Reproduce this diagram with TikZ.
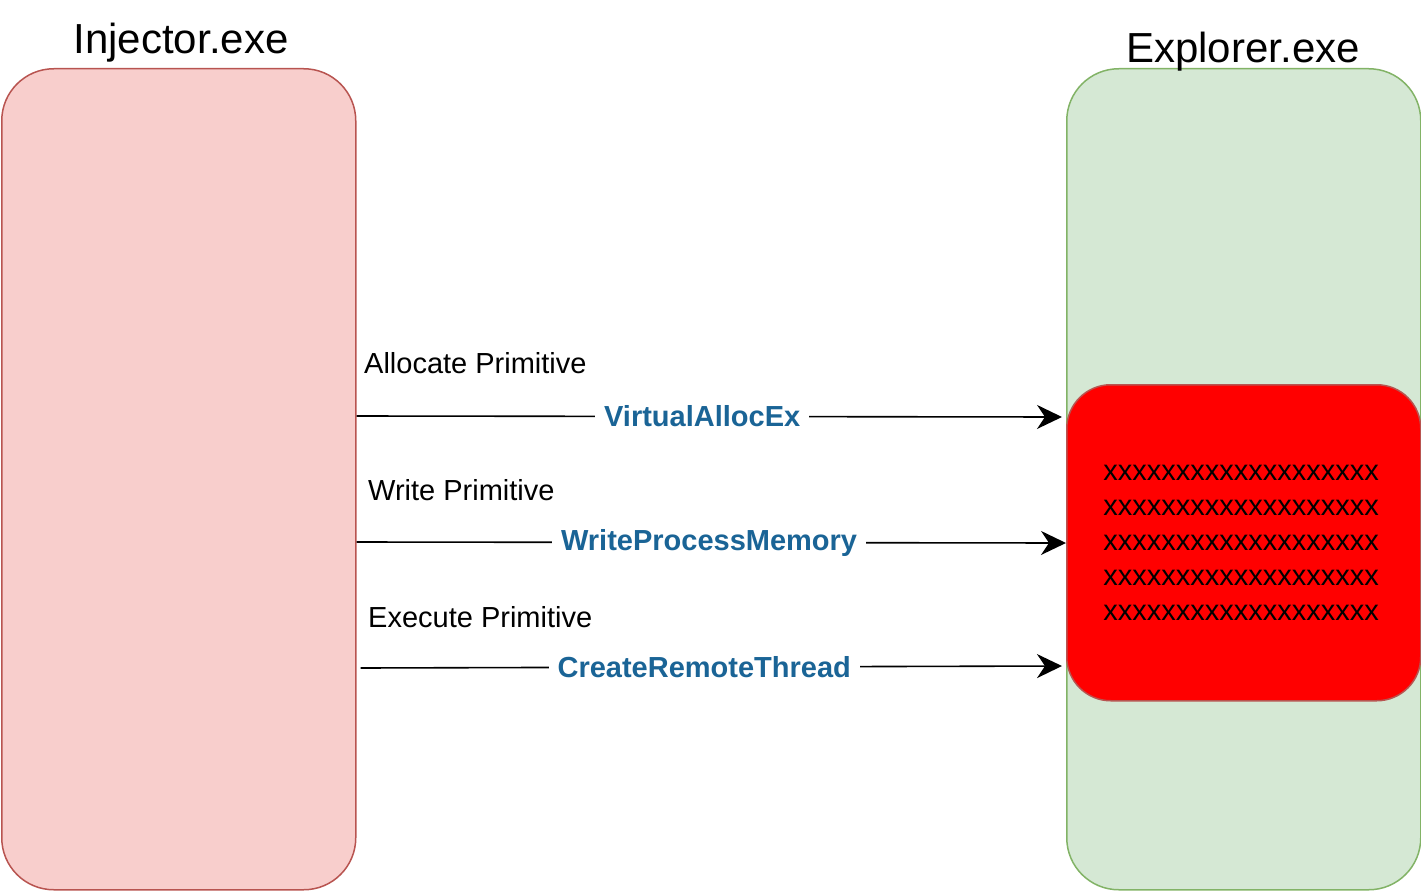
\documentclass[tikz,border=0pt]{standalone}
\usepackage{fontspec}
\setmainfont{Liberation Sans}
\usetikzlibrary{arrows.meta,positioning}
\definecolor{pinkfill}{HTML}{F8CECC}
\definecolor{pinkline}{HTML}{B85450}
\definecolor{greenfill}{HTML}{D5E8D4}
\definecolor{greenline}{HTML}{82B366}
\definecolor{apiblue}{HTML}{1A6496}
\tikzset{
  procbox/.style={draw=#1, line width=1.5pt, rounded corners=52pt, inner sep=0pt},
  title/.style={font=\fontsize{42}{50}\selectfont, anchor=base, inner sep=0pt},
  prim/.style={font=\fontsize{29}{34}\selectfont, anchor=base west, inner sep=0pt},
  api/.style={font=\fontsize{29}{34}\selectfont\bfseries, text=apiblue, fill=white, inner xsep=9pt, inner ysep=4pt},
  call/.style={line width=1.6pt, -{Stealth[length=25pt,width=24pt,inset=8pt]}},
  xline/.style={font=\fontsize{29}{34}\selectfont, anchor=base, inner sep=0pt}
}
\begin{document}
\begin{tikzpicture}[x=1pt,y=-1pt]
\useasboundingbox (0,0) rectangle (1421,891);
% process boxes
\node[procbox=pinkline, fill=pinkfill, minimum width=354pt, minimum height=821pt, anchor=north west] (injector) at (1,68) {};
\node[procbox=greenline, fill=greenfill, minimum width=354pt, minimum height=821pt, anchor=north west] (explorer) at (1066,68) {};
\node[draw=pinkline, line width=1.5pt, rounded corners=44pt, fill=red, minimum width=354pt, minimum height=316pt, anchor=north west] (mem) at (1066,384) {};
% titles
\node[title] (injtitle) at (181,53) {Injector.exe};
\node[title] (exptitle) at (1243,63) {Explorer.exe};
% primitive labels
\node[prim] (allocp) at (364,373) {Allocate Primitive};
\node[prim] (writep) at (368,500) {Write Primitive};
\node[prim] (execp) at (368,627) {Execute Primitive};
% memory contents
\foreach \i/\yy in {1/480,2/515,3/550,4/585,5/620}{
  \node[xline] (xrow\i) at (1241,\yy) {xxxxxxxxxxxxxxxxxxx};
}
% calls
\coordinate (a1) at (injector.east |- 0,416);
\coordinate (b1) at (mem.west |- 0,417);
\draw[call] (a1) -- node[api, pos=0.49] (l1) {VirtualAllocEx} ([xshift=-4pt]b1);
\coordinate (a2) at (injector.east |- 0,542);
\coordinate (b2) at (mem.west |- 0,543);
\draw[call] (a2) -- node[api, pos=0.497] (l2) {WriteProcessMemory} (b2);
\coordinate (a3) at ([xshift=4pt]injector.east |- 0,668);
\coordinate (b3) at (mem.west |- 0,666);
\draw[call] (a3) -- node[api, pos=0.49] (l3) {CreateRemoteThread} ([xshift=-4pt]b3);
\end{tikzpicture}
\end{document}
